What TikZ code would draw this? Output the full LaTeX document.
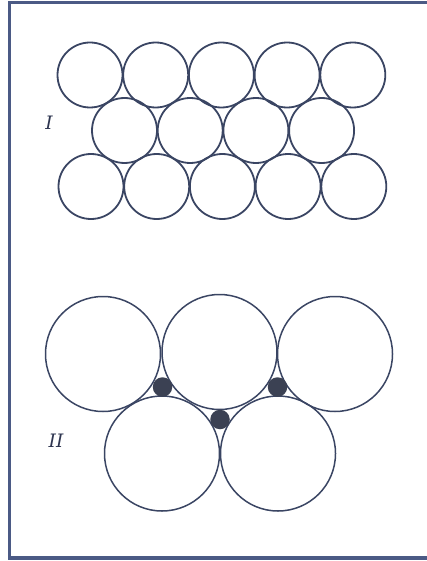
\documentclass[tikz,border=0pt]{standalone}
\usepackage{fontspec}
\newfontfamily\lblfont{DejaVu Serif}
\begin{document}
\begin{tikzpicture}[x=1pt,y=-1pt,
  frameline/.style={draw=framecol,line width=3.4pt},
  smallball/.style={circle,draw=linecol,line width=1.8pt,minimum size=65pt,inner sep=0pt},
  bigball/.style={circle,draw=linecol,line width=1.5pt,minimum size=115pt,inner sep=0pt},
  hole/.style={circle,fill=dotcol,minimum size=19.5pt,inner sep=0pt},
  lbl/.style={font=\lblfont\fontsize{18.5}{18.5}\selectfont\itshape,text=lblcol}]
\definecolor{framecol}{HTML}{4B5A85}
\definecolor{linecol}{HTML}{3A4563}
\definecolor{dotcol}{HTML}{3B4153}
\definecolor{lblcol}{HTML}{2E3550}
\useasboundingbox (0,0) rectangle (427,561);
\clip (0,0) rectangle (427,561);
\draw[frameline] (432,2.5) -- (9.5,2.5) -- (9.5,558) -- (432,558);
% group I
\foreach \i/\x in {1/90,2/155.7,3/221.4,4/287.1,5/352.8}{
  \node[smallball] (a\i) at (\x,75) {};
  \node[smallball] (c\i) at (\x+1,186.5) {};
}
\foreach \i/\x in {1/124.5,2/190.2,3/255.9,4/321.6}{
  \node[smallball] (b\i) at (\x,130.5) {};
}
\node[lbl] (one) at (49,123) {I};
% group II
\node[bigball] (u1) at (103,354) {};
\node[bigball] (u2) at (219.5,352) {};
\node[bigball] (u3) at (335,354) {};
\node[bigball] (l1) at (162,453.5) {};
\node[bigball] (l2) at (278,453.5) {};
\node[hole] (h1) at (162.5,387) {};
\node[hole] (h2) at (277.5,387) {};
\node[hole] (h3) at (220,419.5) {};
\node[lbl] (two) at (56,441) {II};
\end{tikzpicture}
\end{document}
